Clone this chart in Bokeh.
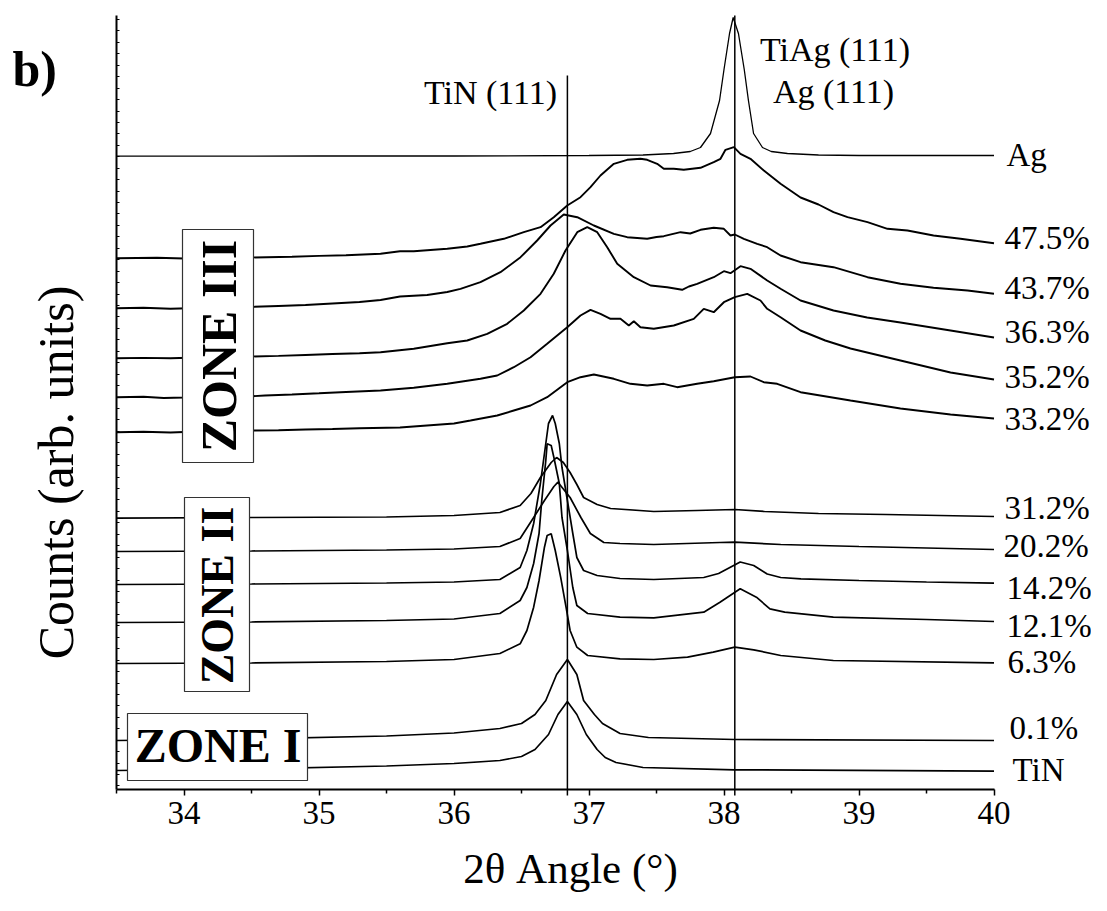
import math
from bokeh.plotting import figure
from bokeh.models import Range1d, FixedTicker, Label, BoxAnnotation
from bokeh.embed import file_html
from bokeh.resources import INLINE

# ---------------- data (2theta in degrees, stacked counts in arb. units) ----------------
x_tin = [33.5, 34.5, 35.5, 36.0, 36.34, 36.5, 36.6, 36.7, 36.77, 36.84, 36.91, 36.98, 37.06, 37.12, 37.2, 37.4, 38.08, 40.0]
y_tin = [19, 20.5, 23.5, 26, 29, 33, 40, 55, 75, 88, 75, 55, 40, 32, 27, 22, 19.7, 18.3]

x_01 = [33.5, 34.5, 35.5, 36.0, 36.34, 36.5, 36.6, 36.68, 36.76, 36.84, 36.91, 36.96, 37.04, 37.1, 37.23, 37.44, 38.08, 40.0]
y_01 = [49, 50.5, 53.5, 56.5, 61, 66, 75, 89, 115, 130, 115, 89, 75, 66, 56, 52, 50, 49]

x_63 = [33.5, 34.5, 35.5, 36.0, 36.34, 36.49, 36.54, 36.59, 36.63, 36.67, 36.69, 36.72, 36.75, 36.79, 36.83, 36.86, 36.91, 36.99,
        37.23, 37.48, 37.73, 37.92, 38.08, 38.22, 38.42, 38.81, 40.0]
y_63 = [126, 126.5, 128, 130, 136, 145.7, 159, 182.3, 209, 242.3, 254, 255.7, 239, 212.3, 182.3, 159, 142.3, 134,
        130.7, 130, 132.3, 137.3, 142.3, 139.7, 134, 129, 126.7]

x_121 = [33.5, 34.5, 35.5, 36.0, 36.34, 36.49, 36.54, 36.59, 36.63, 36.65, 36.68, 36.69, 36.72, 36.74, 36.78, 36.8, 36.84, 36.88,
         36.91, 36.99, 37.23, 37.48, 37.85, 37.97, 38.12, 38.24, 38.34, 38.45, 38.81, 39.5, 40.0]
y_121 = [167, 167.5, 169, 170.5, 176, 189, 202, 226, 256, 289, 329, 345.7, 344, 332, 306, 272, 239, 202,
         184, 176, 172.3, 171.7, 177.3, 187.3, 200.7, 192.3, 180.7, 177.3, 172.3, 170, 168]

x_142 = [33.5, 34.5, 35.5, 36.0, 36.34, 36.49, 36.54, 36.59, 36.64, 36.68, 36.7, 36.73, 36.75, 36.78, 36.8, 36.84, 36.88, 36.91,
         36.96, 37.06, 37.23, 37.48, 37.85, 37.96, 38.12, 38.22, 38.32, 38.42, 38.57, 39.0, 39.5, 40.0]
y_142 = [205, 205.5, 206.5, 207.5, 210, 222, 239, 266, 306, 346, 366, 374, 366, 346, 322, 289, 256, 232,
         219, 214, 211, 210, 212, 216, 227.5, 224, 215.5, 212, 210.7, 209, 207.5, 206.3]

x_202 = [33.5, 34.5, 35.5, 36.0, 36.34, 36.49, 36.59, 36.67, 36.74, 36.77, 36.86, 36.94, 37.01, 37.11, 37.23, 37.48, 37.97, 38.08,
         38.42, 39.0, 40.0]
y_202 = [238, 238.5, 239.5, 240.5, 243, 251, 272, 289, 303, 307.3, 292, 272, 256, 247, 246, 245, 247, 247.3,
         245, 243, 240]

x_312 = [33.5, 34.5, 35.5, 36.0, 36.34, 36.49, 36.57, 36.64, 36.72, 36.76, 36.81, 36.86, 36.91, 36.96, 37.06, 37.16, 37.48, 37.8,
         38.08, 38.3, 38.7, 39.2, 40.0]
y_312 = [271.3, 272, 272.5, 274, 277, 284, 296, 312, 327, 332, 327, 317, 305, 292, 285, 281, 278, 279,
         280, 278, 276, 275, 273]

x_332 = [33.5, 33.7, 33.9, 34.1, 34.3, 34.5, 34.7, 34.9, 35.1, 35.3, 35.6, 35.8, 36.0, 36.122, 36.32, 36.443, 36.567, 36.69,
         36.839, 36.937, 37.036, 37.184, 37.307, 37.431, 37.554, 37.653, 37.801, 37.924, 38.08, 38.196, 38.295, 38.394,
         38.567, 38.937, 39.307, 39.678, 40.0]
y_332 = [357.3, 357.8, 357, 358, 358.5, 359, 359.3, 360, 360.5, 361.2, 362, 364, 366, 369, 374, 379, 384, 392.3,
         407.3, 412.3, 415, 410.7, 405.7, 404, 405.7, 402.3, 405.7, 408.3, 412.3, 413, 407.3, 405.7,
         397.3, 389, 381, 375, 371]

x_352 = [33.5, 33.7, 33.85, 34.0, 34.2, 34.4, 34.6, 34.8, 35.0, 35.2, 35.456, 35.702, 35.95, 36.196, 36.32, 36.443, 36.567,
         36.69, 36.839, 36.937, 37.011, 37.085, 37.159, 37.233, 37.295, 37.332, 37.381, 37.48, 37.628, 37.776, 37.85,
         37.924, 37.999, 38.08, 38.172, 38.27, 38.32, 38.419, 38.567, 38.75, 38.937, 39.307, 39.678, 40.0]
y_352 = [392.3, 392.8, 391.5, 392, 393, 392.5, 394, 395, 396.2, 397.5, 399, 401.7, 405.7, 410.7, 414, 422.3, 432.3,
         445.7, 462.3, 474, 479.7, 475.7, 470.7, 470.7, 464, 468.3, 462.3, 460.7, 464, 470.7, 480.7,
         477.3, 487.3, 492.3, 495.7, 489, 480.7, 472.3, 459, 449, 441, 429, 417, 410]

x_363 = [33.5, 33.7, 33.9, 34.1, 34.3, 34.5, 34.7, 34.9, 35.1, 35.3, 35.456, 35.702, 35.95, 36.098, 36.246, 36.394, 36.517,
         36.641, 36.739, 36.826, 36.913, 36.987, 37.061, 37.135, 37.209, 37.332, 37.456, 37.579, 37.69, 37.74, 37.801,
         37.924, 37.999, 38.048, 38.122, 38.196, 38.32, 38.419, 38.567, 38.811, 39.06, 39.307, 39.678, 40.0]
y_363 = [431.3, 431.6, 431.2, 432, 432.4, 433, 433.6, 434.5, 435.5, 436.2, 437.3, 440.7, 446.3, 449, 455.7, 465.7, 479,
         495.7, 515.7, 539, 557.3, 562.3, 557.3, 542.3, 525.7, 512.3, 504, 502.3, 499.7, 503, 505.7,
         512.3, 518.3, 516.3, 523.3, 520.7, 509, 500.7, 489, 479, 472, 467, 459, 452]

x_437 = [33.5, 33.7, 33.9, 34.1, 34.3, 34.5, 34.7, 34.9, 35.1, 35.3, 35.456, 35.6, 35.801, 35.95, 36.048, 36.196, 36.344,
         36.493, 36.616, 36.715, 36.813, 36.913, 37.036, 37.184, 37.283, 37.431, 37.5, 37.554, 37.678, 37.75, 37.826,
         37.924, 37.999, 38.048, 38.08, 38.147, 38.246, 38.32, 38.419, 38.567, 38.811, 39.063, 39.307, 39.552, 39.804, 40.0]
y_437 = [481.3, 481.8, 480.8, 481.5, 482, 482.6, 483.5, 484.5, 486, 487.5, 489.5, 493, 494.5, 497.5, 500.7, 507.3, 517.3,
         532.3, 549, 564, 575, 572.3, 564, 555.7, 552.3, 550.7, 552.5, 553.3, 557.3, 556, 559.7,
         561.7, 560.7, 554, 555, 550.7, 545.7, 542.3, 534, 527.3, 522.3, 512.3, 505.7, 501.7, 499, 495.7]

x_475 = [33.5, 33.8, 34.0, 34.2, 34.5, 34.8, 35.0, 35.2, 35.456, 35.6, 35.702, 35.85, 35.95, 36.098, 36.196, 36.369, 36.517,
         36.641, 36.739, 36.839, 36.937, 37.011, 37.085, 37.184, 37.283, 37.381, 37.431, 37.505, 37.554, 37.628, 37.702,
         37.826, 37.924, 37.974, 38.011, 38.073, 38.122, 38.196, 38.295, 38.419, 38.567, 38.7, 38.811, 38.915, 39.063,
         39.211, 39.359, 39.552, 39.752, 40.0]
y_475 = [531.3, 531.8, 531, 531.6, 532, 532.8, 533.6, 534.2, 535.7, 538.3, 538.3, 539.8, 540.7, 543, 545.7, 550.7, 557.3,
         562.3, 572.3, 584, 592.3, 602.3, 614, 625.7, 629.7, 630.7, 629.7, 625.7, 620.7, 620.7, 619.7,
         621.7, 627.3, 630.7, 639.7, 642.3, 635.7, 630.7, 619, 605.7, 592, 585, 577.3, 572.3, 567.3,
         560.7, 559, 554, 550.7, 546.3]

x_ag = [33.5, 35.0, 36.0, 37.0, 37.4, 37.626, 37.75, 37.826, 37.9, 37.967, 38.0, 38.041, 38.068, 38.107, 38.15, 38.181,
        38.219, 38.285, 38.35, 38.47, 38.7, 39.0, 40.0]
y_ag = [633.3, 633.5, 633.5, 634, 634.5, 636, 638, 642, 656, 689, 720, 756, 772, 756, 720, 689,
        656, 642, 638, 636, 634.5, 634, 634]

series_x = [x_tin, x_01, x_63, x_121, x_142, x_202, x_312, x_332, x_352, x_363, x_437, x_475, x_ag]
series_y = [y_tin, y_01, y_63, y_121, y_142, y_202, y_312, y_332, y_352, y_363, y_437, y_475, y_ag]
series_names = ["TiN", "0.1%", "6.3%", "12.1%", "14.2%", "20.2%", "31.2%", "33.2%", "35.2%", "36.3%", "43.7%", "47.5%", "Ag"]

ref_peaks = [36.84, 38.08]          # TiN (111), TiAg (111) / Ag (111)
x_major = [34, 35, 36, 37, 38, 39, 40]
x_minor = [33.5, 34.5, 35.5, 36.5, 37.5, 38.5, 39.5]

# ---------------- layout helpers (pixel -> data, axes at x=33.5 / y=0) ----------------
W, H = 1091, 895
AX_L, PX_PER_DEG, AX_B = 116, 135.0, 789


def X(px):
    return 33.5 + (px - AX_L) / PX_PER_DEG


def Y(py):
    return AX_B - py


SERIF = "Liberation Serif"
p = figure(width=W, height=H, output_backend="svg", toolbar_location=None,
           x_range=Range1d(X(0), X(W)), y_range=Range1d(Y(H), Y(0)),
           min_border_left=0, min_border_right=0, min_border_top=0, min_border_bottom=0)
p.outline_line_color = None
p.grid.visible = False
p.background_fill_color = "white"
p.border_fill_color = "white"

xa = p.xaxis[0]
xa.fixed_location = 0
xa.bounds = (33.5, 40)
xa.ticker = FixedTicker(ticks=x_major, minor_ticks=x_minor)
xa.axis_line_width = 2
xa.axis_line_color = "black"
xa.major_tick_in = 0
xa.major_tick_out = 6
xa.minor_tick_in = 0
xa.minor_tick_out = 4
xa.major_tick_line_width = 1.5
xa.minor_tick_line_width = 1.5
xa.major_label_text_font = SERIF
xa.major_label_text_font_size = "33px"
xa.major_label_text_color = "black"
xa.major_label_standoff = 6

ya = p.yaxis[0]
ya.fixed_location = 33.5
ya.bounds = (0, 774)
ya.ticker = FixedTicker(ticks=[], minor_ticks=[770 - 11.44 * k for k in range(68)])
ya.axis_line_width = 2
ya.axis_line_color = "black"
ya.minor_tick_in = 3
ya.minor_tick_out = 0
ya.minor_tick_line_width = 1.2

# reference lines
p.segment(x0=[ref_peaks[0]], y0=[-6], x1=[ref_peaks[0]], y1=[714], line_color="black", line_width=1.5)
p.segment(x0=[ref_peaks[1]], y0=[-6], x1=[ref_peaks[1]], y1=[774], line_color="black", line_width=1.5)

# traces
for xs, ys, name in zip(series_x, series_y, series_names):
    lw = 1.7
    if name in ("33.2%", "35.2%", "36.3%", "43.7%", "47.5%"):
        lw = 1.9
    if name == "Ag":
        lw = 1.3
    p.line(xs, ys, line_color="black", line_width=lw)

# zone boxes (pixel boxes of the reference)
for l, r, t, b in [(182, 253, 229, 462), (184, 249, 497, 691), (127, 307, 713, 780)]:
    p.add_layout(BoxAnnotation(left=X(l), right=X(r), bottom=Y(b), top=Y(t), fill_color="white", fill_alpha=1,
                               line_color="#333333", line_alpha=1, line_width=1.2))


def add_text(text, px, py, size_px, align="left", angle=0.0, bold=False):
    # (px, py) = wanted baseline point; compensate Bokeh's baseline offset (~0.38 em)
    shift = 0.38 * size_px
    if angle == 0.0:
        py -= shift
    else:
        px -= shift
    p.add_layout(Label(x=X(px), y=Y(py), text=text, angle=angle, text_align=align, text_baseline="alphabetic",
                       text_font=SERIF, text_font_size=f"{size_px}px", text_color="black",
                       text_font_style="bold" if bold else "normal"))


add_text("ZONE III", 237, 345.5, 50, align="center", angle=math.pi / 2, bold=True)
add_text("ZONE II", 234, 595, 46, align="center", angle=math.pi / 2, bold=True)
add_text("ZONE I", 217.5, 763, 48, align="center", bold=True)

# right-hand series labels: (left x, baseline y) in reference pixels
label_pos = {"Ag": (1006, 167), "47.5%": (1004, 250), "43.7%": (1004, 300), "36.3%": (1004, 344),
             "35.2%": (1004, 389), "33.2%": (1004, 431), "31.2%": (1004, 520), "20.2%": (1003, 558),
             "14.2%": (1006, 600), "12.1%": (1006, 638), "6.3%": (1007, 674), "0.1%": (1009, 740), "TiN": (1012, 782)}
for name in series_names:
    lx, ly = label_pos[name]
    add_text(name, lx, ly, 33)

# peak annotations
add_text("TiAg (111)", 834.5, 62, 34, align="center")
add_text("Ag (111)", 833, 104, 34, align="center")
add_text("TiN (111)", 490, 105, 34, align="center")

# panel letter and axis titles
add_text("b)", 12, 87, 50, bold=True)
add_text("Counts (arb. units)", 74, 472, 50, align="center", angle=math.pi / 2)
add_text("2θ Angle (°)", 570, 884, 43, align="center")

open("out.html", "w").write(file_html(p, INLINE))
